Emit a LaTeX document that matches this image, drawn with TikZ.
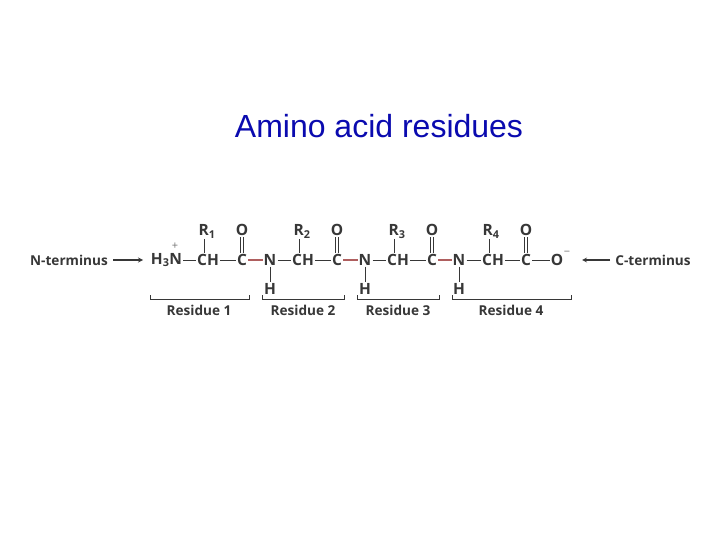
\documentclass[tikz,border=0pt]{standalone}
\usepackage{fontspec}
\setmainfont{Open Sans}
\newfontfamily\titlefont{Liberation Sans}
\usepackage{tikz}
\definecolor{titleblue}{RGB}{10,10,175}
\definecolor{ink}{RGB}{55,55,55}
\definecolor{peptide}{RGB}{175,95,95}

\begin{document}
\begin{tikzpicture}[x=1pt,y=-1pt]
\tikzstyle{atom}=[font=\bfseries\fontsize{15.5}{17}\selectfont,text=ink,inner sep=1pt]
\tikzstyle{sidegroup}=[atom,anchor=base]
\tikzstyle{tag}=[font=\bfseries\fontsize{13.6}{15}\selectfont,text=ink,inner sep=1pt]
\tikzstyle{charge}=[font=\fontsize{11}{11}\selectfont,text=ink!70,inner sep=0pt]
\tikzstyle{bond}=[draw=ink,line width=1pt]
\tikzstyle{link}=[draw=peptide,line width=1.2pt]
\tikzstyle{dbond}=[draw=ink,line width=0.9pt,double,double distance=2pt]
\tikzstyle{brace}=[draw=ink,line width=1pt]
\tikzstyle{pointer}=[draw=ink,line width=1.2pt,-stealth,shorten <=4pt]
\useasboundingbox (0,0) rectangle (720,540);

\node[font=\titlefont\fontsize{32}{36}\selectfont,text=titleblue,inner sep=0pt] (title) at (379,126) {Amino acid residues};

% backbone
\node[tag] (nterm) at (69,260) {N-terminus};
\node[atom] (h3n) at (166.5,260) {H\textsubscript{3}N};
\node[atom] (ch1) at (208,260) {CH};
\node[atom] (c1) at (242,260) {C};
\node[atom] (n2) at (270,260) {N};
\node[atom] (ch2) at (303,260) {CH};
\node[atom] (c2) at (337,260) {C};
\node[atom] (n3) at (365,260) {N};
\node[atom] (ch3) at (398,260) {CH};
\node[atom] (c3) at (432,260) {C};
\node[atom] (n4) at (459,260) {N};
\node[atom] (ch4) at (493,260) {CH};
\node[atom] (c4) at (526,260) {C};
\node[atom] (o5) at (557,260) {O};
\node[tag] (cterm) at (653,260) {C-terminus};

% side groups
\node[sidegroup] (r1) at (207,235.5) {R\textsubscript{1}};
\node[sidegroup] (r2) at (302,235.5) {R\textsubscript{2}};
\node[sidegroup] (r3) at (397,235.5) {R\textsubscript{3}};
\node[sidegroup] (r4) at (491,235.5) {R\textsubscript{4}};
\node[atom] (o1) at (242,230) {O};
\node[atom] (o2) at (337,230) {O};
\node[atom] (o3) at (432,230) {O};
\node[atom] (o4) at (526,230) {O};
\node[atom] (h2) at (270,289) {H};
\node[atom] (h3) at (365,289) {H};
\node[atom] (h4) at (459,289) {H};

\node[charge] (plus) at (175,246) {+};
\node[charge] (minus) at (567,253) {\textminus};

\coordinate (nstop) at (143,260);
\coordinate (cstop) at (582,260);
\draw[pointer] (nterm) -- (nstop);
\draw[pointer] (cterm) -- (cstop);

\draw[bond] (h3n) -- (ch1);
\draw[bond] (ch1) -- (c1);
\draw[link] (c1) -- (n2);
\draw[bond] (n2) -- (ch2);
\draw[bond] (ch2) -- (c2);
\draw[link] (c2) -- (n3);
\draw[bond] (n3) -- (ch3);
\draw[bond] (ch3) -- (c3);
\draw[link] (c3) -- (n4);
\draw[bond] (n4) -- (ch4);
\draw[bond] (ch4) -- (c4);
\draw[bond] (c4) -- (o5);

\draw[bond] ([xshift=-4pt]ch1.north) -- +(0,-14);
\draw[bond] ([xshift=-4pt]ch2.north) -- +(0,-14);
\draw[bond] ([xshift=-4pt]ch3.north) -- +(0,-14);
\draw[bond] ([xshift=-4pt]ch4.north) -- +(0,-14);
\draw[dbond] (o1) -- (c1);
\draw[dbond] (o2) -- (c2);
\draw[dbond] (o3) -- (c3);
\draw[dbond] (o4) -- (c4);
\draw[bond] (n2) -- (h2);
\draw[bond] (n3) -- (h3);
\draw[bond] (n4) -- (h4);

% residue brackets
\coordinate (bl1) at (150,295);
\coordinate (br1) at (249,295);
\coordinate (bl2) at (262,295);
\coordinate (br2) at (344,295);
\coordinate (bl3) at (357,295);
\coordinate (br3) at (439,295);
\coordinate (bl4) at (452,295);
\coordinate (br4) at (571,295);
\draw[brace] (bl1) -- ++(0,4) -| (br1);
\draw[brace] (bl2) -- ++(0,4) -| (br2);
\draw[brace] (bl3) -- ++(0,4) -| (br3);
\draw[brace] (bl4) -- ++(0,4) -| (br4);
\node[tag] (res1) at (199,310) {Residue 1};
\node[tag] (res2) at (303,310) {Residue 2};
\node[tag] (res3) at (398,310) {Residue 3};
\node[tag] (res4) at (511,310) {Residue 4};
\end{tikzpicture}
\end{document}
